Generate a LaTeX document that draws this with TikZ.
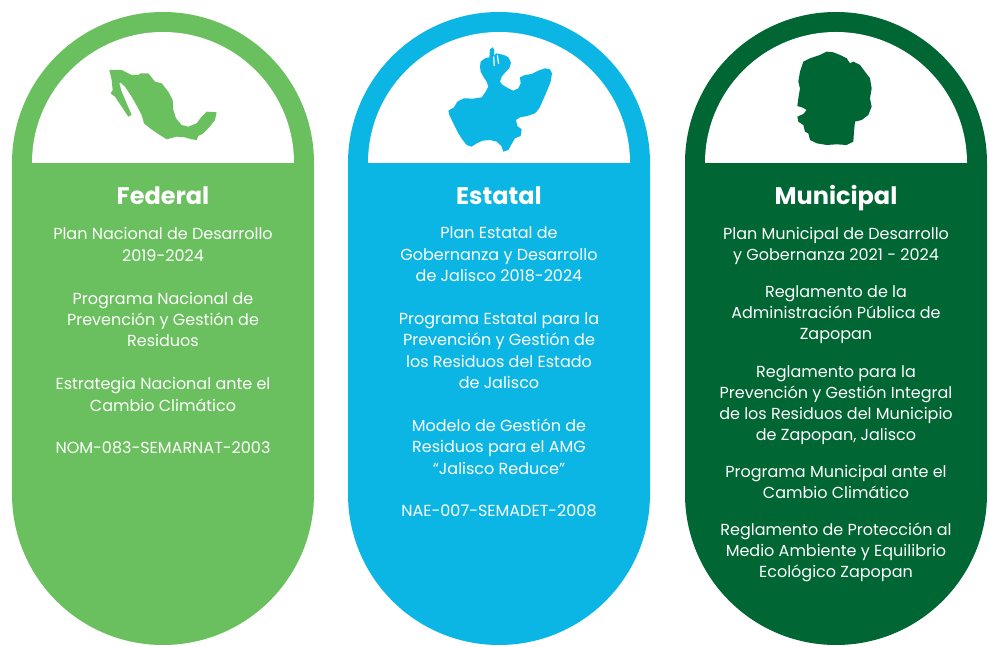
\documentclass[tikz,border=0pt]{standalone}
\usepackage{fontspec}
\setmainfont{Poppins}
\definecolor{fedgreen}{HTML}{6ABF5E}
\definecolor{estblue}{HTML}{0CB6E4}
\definecolor{mungreen}{HTML}{006633}
\tikzset{
  pilltitle/.style={text=white,font=\fontsize{24}{28}\selectfont\bfseries,anchor=base,inner sep=0pt},
  pilltext/.style={text=white,align=center,font=\fontsize{16}{21.4}\selectfont,anchor=base,inner sep=0pt},
}

\begin{document}
\begin{tikzpicture}[x=1pt,y=1pt]
  \useasboundingbox (0,0) rectangle (989,646);
  % pills and white caps
  \foreach \cx/\col in {163/fedgreen,499/estblue,836/mungreen}{
    \fill[\col] (\cx-151,152) -- (\cx-151,483) arc[start angle=180,end angle=0,radius=151]
      -- (\cx+151,152) arc[start angle=0,end angle=-180,radius=151] -- cycle;
    \fill[white] (\cx-131,483) arc[start angle=180,end angle=0,radius=131] -- cycle;
  }
  % Mexico
  \begin{scope}[shift={(100,586)},x=0.3333pt,y=-0.3333pt]
    \fill[fedgreen] (28,30) -- (65,30) -- (95,45) -- (115,45) -- (122,40) -- (145,40)
      -- (165,65) -- (185,70) -- (205,95) -- (218,120) -- (220,150) -- (228,175)
      -- (245,195) -- (265,200) -- (290,190) -- (305,170) -- (320,155) -- (350,157)
      -- (345,180) -- (325,205) -- (310,220) -- (295,228) -- (290,240) -- (275,238)
      -- (255,232) -- (230,230) -- (200,238) -- (175,222) -- (150,205) -- (132,190)
      -- (125,165) -- (112,140) -- (95,110) -- (75,80) -- (62,68) -- (58,70)
      -- (65,95) -- (80,130) -- (95,165) -- (85,170) -- (65,140) -- (45,110)
      -- (32,100) -- (38,90) -- (35,60) -- cycle;
  \end{scope}
  % Jalisco
  \begin{scope}[shift={(440,606)},x=0.3333pt,y=-0.3333pt]
    \fill[estblue] (120,80) -- (122,65) -- (135,55) -- (148,52) -- (150,28) -- (158,22)
      -- (163,30) -- (162,48) -- (168,40) -- (178,42) -- (192,45) -- (205,52)
      -- (213,68) -- (208,85) -- (195,98) -- (185,110) -- (180,125) -- (188,135)
      -- (205,145) -- (220,152) -- (235,145) -- (242,130) -- (240,112) -- (255,105)
      -- (275,102) -- (295,92) -- (315,85) -- (330,88) -- (336,100) -- (332,125)
      -- (322,150) -- (310,178) -- (298,205) -- (285,220) -- (262,228) -- (240,232)
      -- (228,240) -- (232,258) -- (245,268) -- (242,288) -- (225,295) -- (215,312)
      -- (205,330) -- (190,335) -- (184,318) -- (170,305) -- (150,300) -- (128,302)
      -- (110,310) -- (95,320) -- (80,315) -- (68,300) -- (55,280) -- (40,250)
      -- (28,225) -- (25,212) -- (42,202) -- (52,185) -- (72,175) -- (100,176)
      -- (125,172) -- (135,158) -- (145,140) -- (140,125) -- (130,110) -- (122,95) -- cycle;
    \draw[white,line width=1.2pt] (161,50) -- (163,78) (172,46) -- (176,72);
  \end{scope}
  % Zapopan
  \begin{scope}[shift={(790,601)},x=0.3333pt,y=-0.3333pt]
    \fill[mungreen] (40,50) -- (60,40) -- (90,30) -- (110,20) -- (130,22) -- (150,30)
      -- (170,40) -- (180,55) -- (190,50) -- (210,60) -- (225,80) -- (240,100)
      -- (245,130) -- (240,160) -- (245,185) -- (235,210) -- (215,225) -- (195,230)
      -- (192,260) -- (190,290) -- (170,300) -- (140,298) -- (110,300) -- (80,295)
      -- (60,285) -- (55,265) -- (45,260) -- (40,240) -- (25,230) -- (22,215)
      -- (40,207) -- (50,195) -- (38,188) -- (22,183) -- (25,160)
      -- (30,130) -- (25,110) -- (30,80) -- cycle;
  \end{scope}
  % titles
  \node[pilltitle] (fedtitle) at (163,441) {Federal};
  \node[pilltitle] (esttitle) at (499,441) {Estatal};
  \node[pilltitle] (muntitle) at (836,441) {Municipal};
  % texts (anchored at the base of their last line)
  \node[pilltext] (fedtext) at (163,192) {Plan Nacional de Desarrollo\\2019-2024\\[21.4pt]
    Programa Nacional de\\Prevención y Gestión de\\Residuos\\[21.4pt]
    Estrategia Nacional ante el\\Cambio Climático\\[21.4pt]
    NOM-083-SEMARNAT-2003};
  \node[pilltext] (esttext) at (499,129) {Plan Estatal de\\Gobernanza y Desarrollo\\de Jalisco 2018-2024\\[21.4pt]
    Programa Estatal para la\\Prevención y Gestión de\\los Residuos del Estado\\de Jalisco\\[21.4pt]
    Modelo de Gestión de\\Residuos para el AMG\\“Jalisco Reduce”\\[21.4pt]
    NAE-007-SEMADET-2008};
  \node[pilltext,font=\fontsize{16}{21}\selectfont] (muntext) at (836,68) {Plan Municipal de Desarrollo\\y Gobernanza 2021 - 2024\\[16.4pt]
    Reglamento de la\\Administración Pública de\\Zapopan\\[16.4pt]
    Reglamento para la\\Prevención y Gestión Integral\\de los Residuos del Municipio\\de Zapopan, Jalisco\\[16.4pt]
    Programa Municipal ante el\\Cambio Climático\\[16.4pt]
    Reglamento de Protección al\\Medio Ambiente y Equilibrio\\Ecológico Zapopan};
\end{tikzpicture}
\end{document}
